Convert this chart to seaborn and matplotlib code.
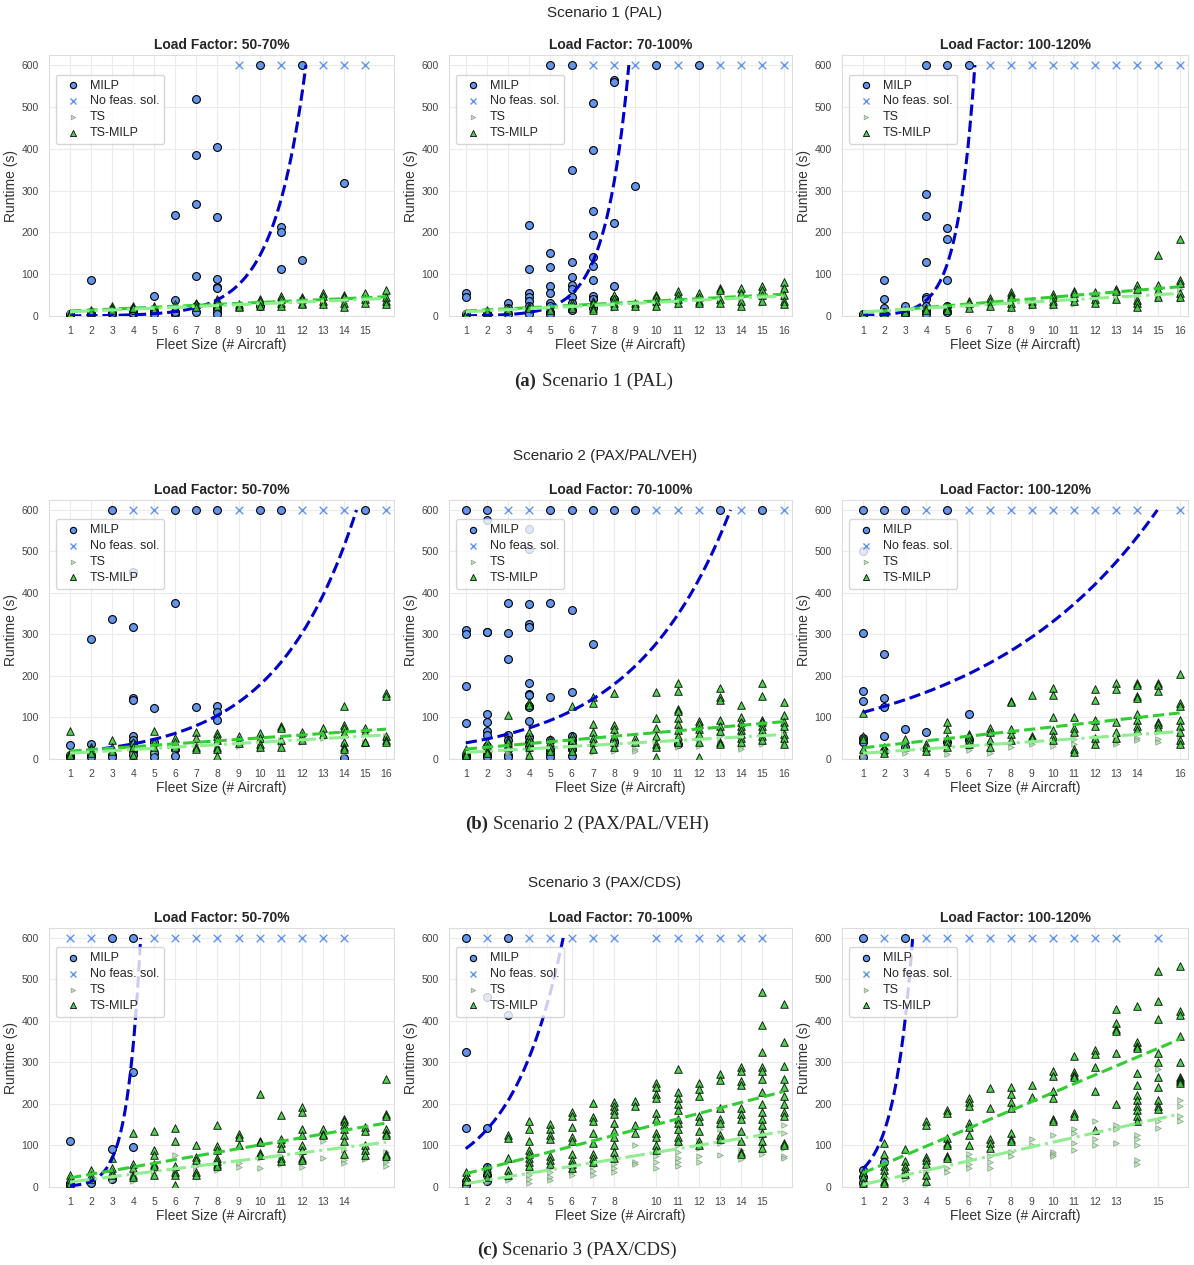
import numpy as np
import matplotlib
matplotlib.use("Agg")
import matplotlib.pyplot as plt
import seaborn as sns

# ---------------- data (runtime in s per fleet size) ----------------
scenario_titles = ["Scenario 1 (PAL)", "Scenario 2 (PAX/PAL/VEH)", "Scenario 3 (PAX/CDS)"]
caption_tags = ["(a)", "(b)", "(c)"]
load_factors = ["Load Factor: 50-70%", "Load Factor: 70-100%", "Load Factor: 100-120%"]
time_limit = 600

# Scenario 1
s1_lf1_milp = {1: [3, 5], 2: [86, 10, 5], 3: [5, 8], 4: [5, 8, 15], 5: [48, 12, 5],
               6: [242, 38, 5, 10], 7: [520, 386, 267, 95, 10, 25],
               8: [405, 236, 88, 70, 66, 20, 10, 5], 10: [600, 25], 11: [212, 202, 112],
               12: [600, 135], 14: [318]}
s1_lf1_nofeas = [9, 11, 13, 14, 15]
s1_lf1_ts = {1: [6, 4], 2: [12, 8], 3: [18, 12], 4: [20, 15], 5: [20, 14], 6: [22, 16],
             7: [25, 20], 8: [30, 25, 20], 9: [24, 20], 10: [32, 25], 11: [38, 30, 24],
             12: [38, 30], 13: [42, 32], 14: [40, 30, 22], 15: [45, 35], 16: [50, 38, 28]}
s1_lf1_tsmilp = {1: [7, 5], 2: [15, 12, 10], 3: [25, 20, 15], 4: [24, 20, 18], 5: [25, 20, 15],
                 6: [28, 22, 18], 7: [32, 28, 22], 8: [40, 35, 30, 25], 9: [28, 25, 22],
                 10: [40, 35, 25], 11: [48, 40, 30, 25], 12: [45, 40, 30, 28],
                 13: [55, 48, 35, 28], 14: [50, 45, 30, 22], 15: [55, 40, 32], 16: [62, 45, 35, 28]}

s1_lf2_milp = {1: [55, 45, 5], 2: [10, 5], 3: [30, 20, 5], 4: [218, 112, 55, 45, 35, 25, 15, 5],
               5: [600, 150, 118, 72, 55, 30, 25, 10, 5], 6: [600, 350, 128, 93, 75, 65, 45, 30, 15],
               7: [510, 398, 250, 193, 140, 120, 85, 48, 40, 20], 8: [565, 560, 222, 72, 40],
               9: [312], 10: [600], 12: [600]}
s1_lf2_nofeas = [7, 8, 9, 11, 13, 14, 15, 16]
s1_lf2_ts = {1: [6, 4], 2: [12, 8], 3: [15, 10], 4: [20, 15], 5: [18, 12], 6: [25, 18],
             7: [28, 20, 14], 8: [35, 25, 20], 9: [25, 22], 10: [40, 30, 22], 11: [48, 35, 26],
             12: [45, 32, 28], 13: [55, 38, 30], 14: [55, 35, 24], 15: [60, 45, 32], 16: [65, 45, 30]}
s1_lf2_tsmilp = {1: [8, 5], 2: [15, 10], 3: [20, 15], 4: [25, 20], 5: [20, 15], 6: [30, 25, 20],
                 7: [35, 30, 20, 15], 8: [50, 40, 30, 25], 9: [32, 25], 10: [50, 45, 35, 25],
                 11: [60, 50, 40, 30], 12: [55, 45, 35, 30], 13: [68, 62, 40, 32],
                 14: [68, 55, 35, 25], 15: [72, 62, 50, 35], 16: [82, 68, 50, 35, 28]}

s1_lf3_milp = {1: [5, 3], 2: [85, 40, 18, 10, 5], 3: [25, 10, 5],
               4: [600, 292, 238, 130, 45, 40, 25, 15, 5], 5: [600, 210, 183, 85, 25, 10], 6: [600]}
s1_lf3_nofeas = [7, 8, 9, 10, 11, 12, 13, 14, 15, 16]
s1_lf3_ts = {1: [4], 2: [8, 6], 3: [12, 8], 4: [16, 12], 5: [20, 14], 6: [25, 18], 7: [30, 22],
             8: [40, 30, 20], 9: [30, 25], 10: [40, 30, 25], 11: [45, 35, 28], 12: [45, 35, 30],
             13: [50, 38], 14: [55, 40, 25], 15: [60, 45, 40], 16: [65, 50, 40]}
s1_lf3_tsmilp = {1: [5], 2: [10, 8], 3: [15, 10], 4: [20, 15], 5: [25, 20, 15], 6: [35, 30, 20],
                 7: [42, 35, 25], 8: [58, 50, 45, 30, 22], 9: [35, 28], 10: [52, 45, 35, 28],
                 11: [60, 55, 45, 35], 12: [58, 40, 32], 13: [65, 60, 40],
                 14: [75, 65, 38, 30, 22], 15: [147, 75, 62, 45], 16: [185, 85, 80, 55, 45]}

# Scenario 2
s2_lf1_milp = {1: [33, 10, 5], 2: [288, 35, 10, 5], 3: [600, 338, 10, 5],
               4: [450, 318, 148, 143, 55, 45, 35, 20, 10], 5: [122, 40, 15, 5],
               6: [600, 375, 25, 8], 7: [600, 125], 8: [600, 128, 113, 95], 10: [600],
               11: [600], 14: [2], 15: [600]}
s2_lf1_nofeas = [4, 5, 9, 12, 13, 14, 16]
s2_lf1_ts = {1: [10, 6], 2: [20, 12], 3: [25, 15], 4: [28, 12], 5: [30, 20], 6: [32, 22],
             7: [35, 22], 8: [40, 28, 20], 9: [38, 32], 10: [42, 30, 25], 11: [45, 35, 28],
             12: [48, 40], 13: [55, 50], 14: [55, 35, 25, 15], 15: [60, 40, 35], 16: [55, 45, 38]}
s2_lf1_tsmilp = {1: [68, 15, 10], 2: [30, 25, 15], 3: [45, 30, 20], 4: [40, 30, 10],
                 5: [68, 40, 30], 6: [50, 40, 30], 7: [65, 50, 28, 25], 8: [62, 55, 45, 30, 25, 8],
                 9: [55, 45, 38], 10: [62, 50, 35, 30], 11: [80, 75, 45, 30], 12: [65, 55, 45],
                 13: [75, 60], 14: [128, 82, 75, 62, 40, 30, 25], 15: [75, 65, 42, 40],
                 16: [158, 152, 55, 45, 40]}

s2_lf2_milp = {1: [600, 310, 302, 177, 87, 10, 5],
               2: [600, 575, 305, 305, 108, 90, 68, 58, 32, 20, 10, 5],
               3: [375, 303, 240, 58, 45, 25, 10, 5],
               4: [555, 505, 373, 325, 318, 182, 157, 153, 128, 125, 92, 52, 40, 30],
               5: [600, 375, 150, 45, 25, 15, 5], 6: [600, 360, 162, 55, 45, 35, 25, 8],
               7: [600, 278], 8: [600, 40], 9: [600], 11: [35], 13: [600], 15: [600]}
s2_lf2_nofeas = [3, 4, 10, 11, 12, 14, 16]
s2_lf2_ts = {1: [15, 8], 2: [20, 12], 3: [22, 15], 4: [25, 15, 8], 5: [28, 18], 6: [30, 22],
             7: [35, 25, 18], 8: [40, 28, 20], 9: [25, 20], 10: [45, 35, 28], 11: [50, 40, 30],
             12: [50, 38, 32], 13: [55, 40, 35], 14: [60, 45, 30, 25], 15: [62, 50, 35],
             16: [65, 50, 35]}
s2_lf2_tsmilp = {1: [25, 15, 10], 2: [40, 30, 20, 15], 3: [105, 45, 40, 30],
                 4: [138, 130, 65, 50, 40, 30, 10], 5: [48, 40, 30, 20], 6: [128, 55, 45, 30, 20],
                 7: [150, 135, 85, 65, 50, 40, 25], 8: [160, 82, 72, 55, 40, 30], 9: [50, 40],
                 10: [162, 98, 75, 55, 35, 30, 5], 11: [182, 165, 120, 115, 98, 85, 70, 55, 40],
                 12: [92, 85, 72, 60, 40, 5], 13: [170, 150, 142, 95, 80, 68, 40, 35],
                 14: [130, 100, 90, 80, 70, 60, 50, 40], 15: [183, 152, 95, 90, 80, 70, 55, 45],
                 16: [138, 105, 90, 80, 60, 50, 35]}

s2_lf3_milp = {1: [600, 500, 303, 165, 140, 50, 40, 5], 2: [600, 252, 148, 126, 55, 20],
               3: [600, 72, 30], 4: [65], 5: [600, 40], 6: [108, 45]}
s2_lf3_nofeas = [4, 6, 7, 8, 9, 10, 11, 12, 13, 14, 16]
s2_lf3_ts = {1: [15, 8], 2: [18, 12], 3: [22, 15], 4: [25, 18], 5: [28, 12], 6: [30, 22],
             7: [35, 15], 8: [38, 28], 9: [42, 35], 10: [45, 32], 11: [48, 35, 15], 12: [50, 38],
             13: [55, 40, 35], 14: [62, 50, 45], 15: [65, 48, 42], 16: [70, 55, 40]}
s2_lf3_tsmilp = {1: [110, 55, 48, 25], 2: [30, 25, 15], 3: [48, 30], 4: [35, 30, 20],
                 5: [88, 72, 50, 40, 30], 6: [60, 55, 45, 35], 7: [75, 65, 45, 28],
                 8: [140, 138, 72, 60, 45], 9: [155, 55, 50], 10: [170, 155, 102, 70, 55, 45],
                 11: [102, 75, 65, 25, 18], 12: [168, 142, 95, 80, 50, 35],
                 13: [183, 168, 90, 65, 50], 14: [183, 178, 152, 148, 108, 95, 80, 70],
                 15: [183, 178, 163, 90, 85, 75], 16: [205, 135, 128, 95, 80, 65, 45, 35]}

# Scenario 3
s3_lf1_milp = {1: [110, 10, 5], 2: [15, 10], 3: [600, 92, 20], 4: [600, 278, 97]}
s3_lf1_nofeas = [1, 2, 5, 6, 7, 8, 9, 10, 11, 12, 13, 14]
s3_lf1_ts = {1: [12, 8], 2: [18, 12], 3: [25, 18], 4: [30, 20, 15], 5: [38, 30], 6: [78, 40, 30],
             7: [50, 35, 30], 8: [55, 45, 40], 9: [58, 48], 10: [45, 70], 11: [75, 60, 55],
             12: [80, 60, 48], 13: [112, 70], 14: [90, 65, 58], 15: [90, 70, 68],
             16: [85, 65, 60, 50]}
s3_lf1_tsmilp = {1: [28, 20, 10], 2: [40, 30, 20], 3: [70, 45, 35, 30], 4: [130, 55, 45, 30, 25],
                 5: [135, 90, 78, 55, 50, 30], 6: [143, 112, 50, 35, 30, 5],
                 7: [100, 72, 65, 35, 30], 8: [150, 98, 90, 70, 62, 55, 50], 9: [128, 120, 100],
                 10: [225, 112, 108, 82, 78], 11: [173, 115, 105, 95, 70, 62],
                 12: [192, 180, 140, 125, 100, 90, 70, 65], 13: [140, 128, 125],
                 14: [165, 160, 150, 140, 125, 112, 80], 15: [145, 135, 100, 90, 78],
                 16: [260, 175, 170, 140, 130, 125, 80, 75]}

s3_lf2_milp = {1: [600, 325, 142, 15, 5], 2: [458, 143, 48, 30, 15], 3: [600, 415]}
s3_lf2_nofeas = [2, 4, 5, 6, 7, 8, 10, 11, 12, 13, 14, 15]
s3_lf2_ts = {1: [10, 5], 2: [20, 12], 3: [30, 22, 18], 4: [40, 30, 20, 10], 5: [45, 35, 25, 18],
             6: [55, 45, 35, 30], 7: [60, 50, 38, 30], 8: [70, 55, 45, 35], 9: [100, 60, 55],
             10: [90, 75, 60, 45], 11: [100, 85, 70, 60, 50], 12: [110, 95, 75, 60],
             13: [140, 120, 105, 78], 14: [130, 110, 90, 68], 15: [140, 120, 100, 80],
             16: [150, 130, 95, 75, 70]}
s3_lf2_tsmilp = {1: [35, 25, 15], 2: [45, 35, 25], 3: [125, 118, 70, 40, 30],
                 4: [158, 140, 110, 90, 80, 70, 60, 50], 5: [152, 140, 125, 115, 75, 65, 55],
                 6: [180, 172, 145, 120, 110, 80, 65, 55, 45],
                 7: [203, 168, 160, 130, 105, 80, 70, 60],
                 8: [205, 195, 185, 175, 155, 135, 120, 100, 85, 70], 9: [208, 195, 150, 130],
                 10: [250, 240, 225, 215, 178, 165, 130, 120, 100, 90],
                 11: [285, 228, 215, 200, 185, 165, 155, 140, 120, 110],
                 12: [250, 235, 220, 170, 160, 135, 110, 100],
                 13: [272, 258, 190, 165, 155, 125, 115],
                 14: [290, 280, 255, 245, 190, 175, 165, 135, 110, 85, 80],
                 15: [470, 390, 325, 290, 280, 260, 230, 200, 180, 165, 150, 130, 110, 95],
                 16: [440, 350, 292, 260, 240, 220, 200, 180, 170, 105, 100]}

s3_lf3_milp = {1: [600, 40, 25, 10], 2: [60], 3: [600]}
s3_lf3_nofeas = [2, 4, 5, 6, 7, 8, 9, 10, 11, 12, 13, 15]
s3_lf3_ts = {1: [8, 4], 2: [20, 10], 3: [28, 20], 4: [35, 25, 5], 5: [45, 35],
             6: [80, 70, 55, 45], 7: [75, 60, 45], 8: [85, 75], 9: [115, 100],
             10: [125, 85, 80, 75], 11: [140, 130, 105, 90], 12: [160, 115, 100],
             13: [150, 140, 105], 14: [125, 115, 100, 65, 55], 15: [285, 200, 160, 142],
             16: [210, 195, 170, 160]}
s3_lf3_tsmilp = {1: [35, 25, 10], 2: [105, 80, 50, 40, 30, 15, 10], 3: [92, 62, 50, 40, 32],
                 4: [158, 150, 72, 65, 55, 30, 15], 5: [185, 178, 118, 105, 100, 75, 70],
                 6: [215, 205, 195, 155, 145, 125, 100], 7: [238, 190, 115, 105, 95],
                 8: [242, 225, 205, 190, 130, 115, 110], 9: [245, 218],
                 10: [280, 268, 232, 215, 165, 158], 11: [315, 278, 270, 265, 178, 172],
                 12: [330, 320, 290, 232, 138], 13: [428, 395, 380, 375, 322, 200],
                 14: [435, 350, 340, 335, 275, 245, 222, 210, 195, 185, 170, 160],
                 15: [520, 448, 405, 322, 302, 265, 240, 210, 195, 188],
                 16: [532, 425, 415, 365, 300, 265, 260, 255, 250]}

# fleet sizes shown as tick labels
fleet_ticks = [
    [list(range(1, 16)), list(range(1, 17)), list(range(1, 17))],
    [list(range(1, 17)), list(range(1, 17)), list(range(1, 15)) + [16]],
    [list(range(1, 15)), list(range(1, 9)) + list(range(10, 16)), list(range(1, 14)) + [15]],
]

# fitted trends
# MILP: exponential, growth rate and fleet size where it reaches the time limit
milp_growth = [[0.65, 0.90, 1.20], [0.264, 0.219, 0.12], [1.60, 0.407, 1.11]]
milp_cap = [[12.2, 8.7, 6.3], [14.6, 13.5, 14.95], [4.35, 5.6, 3.35]]
# TS-MILP and TS: linear (intercept, slope)
tsmilp_fit = [[(9.7, 2.27), (9.3, 2.67), (3.9, 4.13)],
              [(15.5, 3.53), (19.6, 4.40), (21.4, 5.60)],
              [(13.2, 8.80), (18.8, 13.2), (12.5, 21.47)]]
ts_fit = [[(7.9, 2.13), (7.5, 2.53), (7.1, 2.93)],
          [(11.1, 2.93), (13.1, 2.87), (10.5, 3.47)],
          [(5.6, 6.40), (-0.4, 8.40), (-5.3, 11.33)]]

panels = [
    [(s1_lf1_milp, s1_lf1_nofeas, s1_lf1_ts, s1_lf1_tsmilp),
     (s1_lf2_milp, s1_lf2_nofeas, s1_lf2_ts, s1_lf2_tsmilp),
     (s1_lf3_milp, s1_lf3_nofeas, s1_lf3_ts, s1_lf3_tsmilp)],
    [(s2_lf1_milp, s2_lf1_nofeas, s2_lf1_ts, s2_lf1_tsmilp),
     (s2_lf2_milp, s2_lf2_nofeas, s2_lf2_ts, s2_lf2_tsmilp),
     (s2_lf3_milp, s2_lf3_nofeas, s2_lf3_ts, s2_lf3_tsmilp)],
    [(s3_lf1_milp, s3_lf1_nofeas, s3_lf1_ts, s3_lf1_tsmilp),
     (s3_lf2_milp, s3_lf2_nofeas, s3_lf2_ts, s3_lf2_tsmilp),
     (s3_lf3_milp, s3_lf3_nofeas, s3_lf3_ts, s3_lf3_tsmilp)],
]


def to_long(d):
    xs, ys = [], []
    for k, vals in d.items():
        xs += [k] * len(vals)
        ys += vals
    return xs, ys


sns.set_style("whitegrid")
plt.rcParams['font.family'] = ['Liberation Sans', 'DejaVu Sans']

W, H = 1194, 1265
fig = plt.figure(figsize=(W / 100, H / 100), dpi=100)

col_px = [(49, 394, 0.0, 16.38), (449, 792, 0.21, 16.4), (842, 1188, 0.0, 16.4)]
row_px = [(55, 316), (500, 759), (928, 1187)]
suptitle_y = [13, 456, 883]
caption_y = [381, 824, 1250]
caption_split = [(536, 542), (488, 493), (498, 502)]

for r in range(3):
    fig.text(605 / W, 1 - suptitle_y[r] / H, scenario_titles[r], ha='center', va='center',
             fontsize=11, color='#262626')
    fig.text(caption_split[r][0] / W, 1 - caption_y[r] / H, caption_tags[r], ha='right',
             va='center', fontsize=13.5, fontweight='bold', family='Liberation Serif')
    fig.text(caption_split[r][1] / W, 1 - caption_y[r] / H,
             scenario_titles[r], ha='left', va='center', fontsize=13.5, family='Liberation Serif')

    for c in range(3):
        left, right, x0, x1 = col_px[c]
        top, bottom = row_px[r]
        ax = fig.add_axes([left / W, 1 - bottom / H, (right - left) / W, (bottom - top) / H])
        milp, nofeas, ts, tsmilp = panels[r][c]

        mx, my = to_long(milp)
        sns.scatterplot(x=mx, y=my, marker='o', s=32, color='#6495ED', edgecolor='black',
                        linewidth=0.8, label='MILP', ax=ax, zorder=3)
        sns.scatterplot(x=nofeas, y=[time_limit] * len(nofeas), marker='x', s=30,
                        color='#6495ED', linewidth=1.0, label='No feas. sol.', ax=ax, zorder=3)
        tx, ty = to_long(ts)
        sns.scatterplot(x=tx, y=ty, marker='>', s=16, color='#90EE90', edgecolor='gray',
                        linewidth=0.6, alpha=0.7, label='TS', ax=ax, zorder=3)
        gx, gy = to_long(tsmilp)
        sns.scatterplot(x=gx, y=gy, marker='^', s=30, color='#32CD32', edgecolor='black',
                        linewidth=0.7, alpha=0.85, label='TS-MILP', ax=ax, zorder=3)

        # trend lines
        b, cap = milp_growth[r][c], milp_cap[r][c]
        xe = np.linspace(1, cap, 200)
        ax.plot(xe, time_limit * np.exp(b * (xe - cap)), ls='--', color='#0000CD', lw=2.2, zorder=4)
        xl = np.array([1, 16])
        i0, k0 = tsmilp_fit[r][c]
        ax.plot(xl, i0 + k0 * xl, ls='--', color='#32CD32', lw=2.2, zorder=4)
        i1, k1 = ts_fit[r][c]
        ax.plot(xl, i1 + k1 * xl, ls='-.', color='#90EE90', lw=2.2, zorder=4)

        ax.set_xlim(x0, x1)
        ax.set_ylim(0, 624)
        ax.set_xticks(fleet_ticks[r][c])
        ax.set_yticks(range(0, 601, 100))
        ax.tick_params(axis='x', labelsize=7.5, pad=3.5, colors='#444444')
        ax.tick_params(axis='y', labelsize=7.5, pad=4, colors='#444444')
        ax.grid(color='#ebebeb', lw=0.8)
        for sp in ax.spines.values():
            sp.set_color('#dddddd')
        ax.set_title(load_factors[c], fontsize=10, fontweight='bold', pad=4, color='#262626')
        ax.set_xlabel('Fleet Size (# Aircraft)', fontsize=10, labelpad=1.5, color='#333333')
        ax.set_ylabel('Runtime (s)', fontsize=10, labelpad=2, color='#333333')
        ax.legend(loc='upper left', bbox_to_anchor=(0.02, 0.925), borderaxespad=0,
                  fontsize=9, markerscale=0.8, labelspacing=0.3, handletextpad=0.3,
                  frameon=True, framealpha=0.8, edgecolor='#cccccc')

fig.savefig('out.png', dpi=100)
